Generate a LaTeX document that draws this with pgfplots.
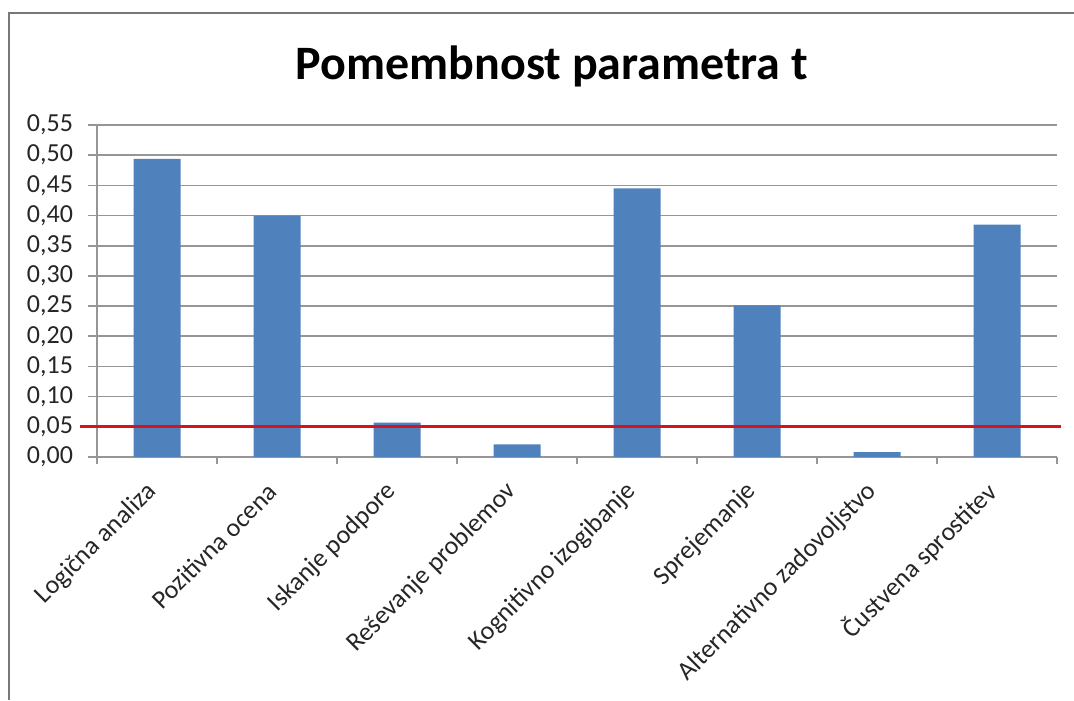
\documentclass[border=0pt]{standalone}
\usepackage{pgfplots}
\pgfplotsset{compat=1.18}
\usepackage{fontspec}
\setmainfont{Carlito}
\definecolor{barblue}{RGB}{79,129,189}
\definecolor{refred}{RGB}{215,20,30}
\definecolor{gridgray}{RGB}{150,150,150}
\begin{document}
\begin{tikzpicture}[x=1pt,y=1pt]
\useasboundingbox (0,0) rectangle (537,350);
\draw[gridgray!80!black, line width=1pt] (4.5,0) -- (4.5,343.5) -- (537,343.5);
\node[font=\fontsize{24}{28}\selectfont\bfseries] at (276,317) {Pomembnost parametra t};
\begin{axis}[
  at={(48.5pt,121.5pt)}, anchor=south west,
  scale only axis, width=480pt, height=166pt,
  xmin=-0.5, xmax=7.5, ymin=0, ymax=0.55,
  clip=false,
  axis x line*=bottom, axis y line*=left,
  axis line style={gridgray, line width=0.8pt},
  ytick={0,0.05,...,0.551},
  /pgf/number format/fixed, /pgf/number format/fixed zerofill, /pgf/number format/precision=2, /pgf/number format/use comma, /pgf/number format/assume math mode=true,
  yticklabel style={font=\fontsize{13}{15}\selectfont, color=black!85, xshift=-4pt},
  ymajorgrids, grid style={gridgray, line width=0.8pt},
  major tick length=4.5pt,
  tick style={gridgray, line width=0.8pt},
  tick align=outside,
  xtick={0,...,7},
  x tick style={draw=none},
  minor xtick={-0.5,0.5,...,7.5},
  minor x tick style={draw=gridgray, line width=0.8pt},
  minor tick length=3.5pt,
  xticklabels={Logična analiza, Pozitivna ocena, Iskanje podpore, Reševanje problemov, Kognitivno izogibanje, Sprejemanje, Alternativno zadovoljstvo, Čustvena sprostitev},
  xticklabel style={font=\fontsize{13}{15}\selectfont, color=black!85, xshift=-1.5pt, yshift=-10pt, rotate=45, anchor=east, inner sep=1pt},
]
\addplot[ybar, bar width=23.5pt, fill=barblue, draw=none] coordinates {
(0,0.494) (1,0.400) (2,0.057) (3,0.021) (4,0.445) (5,0.251) (6,0.008) (7,0.385)};
\addplot[refred, line width=1.5pt, mark=none] coordinates {(-0.64,0.05) (7.53,0.05)};
\end{axis}
\end{tikzpicture}
\end{document}
